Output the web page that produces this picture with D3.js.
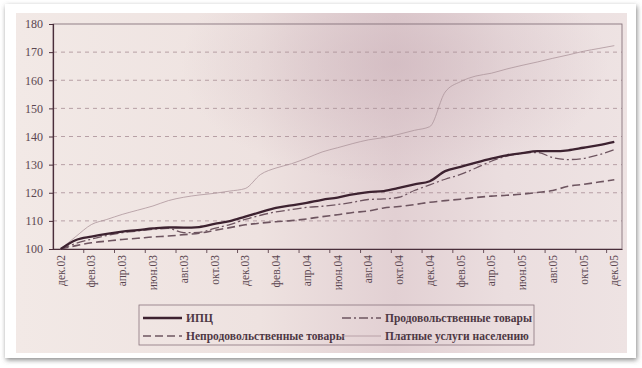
<!DOCTYPE html>
<html>
<head>
<meta charset="utf-8">
<script src="https://cdn.jsdelivr.net/npm/d3@7"></script>
<style>
  body { margin: 0; background: #fff; }
  text { font-family: "Liberation Serif", "DejaVu Serif", serif; }
</style>
</head>
<body>
<div class="chart"></div>
<script>
const width = 642,
    height = 368;

const months = ["дек.02","янв.03","фев.03","мар.03","апр.03","май.03","июн.03","июл.03","авг.03","сен.03","окт.03","ноя.03",
    "дек.03","янв.04","фев.04","мар.04","апр.04","май.04","июн.04","июл.04","авг.04","сен.04","окт.04","ноя.04",
    "дек.04","янв.05","фев.05","мар.05","апр.05","май.05","июн.05","июл.05","авг.05","сен.05","окт.05","ноя.05","дек.05"];
const yTicks = [100, 110, 120, 130, 140, 150, 160, 170, 180];

const cpi = [100,103.2,104.4,105.4,106.2,106.7,107.3,107.7,107.6,107.8,108.9,109.9,
    111.5,113.1,114.6,115.5,116.4,117.5,118.3,119.4,120.2,120.6,121.7,123.0,
    124.1,127.7,129.2,130.7,132.1,133.3,134.1,134.8,134.8,135.1,136.0,136.9,138.1];
const food = [100,102.0,103.5,104.8,105.8,106.4,107.0,107.3,105.8,105.9,107.3,108.7,
    110.5,112.0,113.2,114.0,114.8,115.2,115.8,116.6,117.6,117.8,118.4,120.8,
    122.8,124.8,126.5,128.8,131.2,133.0,134.0,134.3,132.5,131.8,132.2,133.5,135.3];
const nonfood = [100,101.2,102.2,102.8,103.4,103.8,104.3,104.6,105.1,105.6,106.6,107.6,
    108.6,109.2,109.7,110.1,110.7,111.5,112.2,113.0,113.5,114.6,115.1,115.8,
    116.6,117.2,117.7,118.3,118.8,119.1,119.5,120.1,120.8,122.3,123.0,123.8,124.6];
const services = [100,104.5,108.7,110.5,112.3,113.8,115.3,117.2,118.4,119.2,119.8,120.6,
    121.5,126.5,128.8,130.3,132.3,134.5,136.0,137.5,138.8,139.6,140.8,142.2,
    143.5,155.8,159.5,161.5,162.5,164.0,165.3,166.5,167.8,169.0,170.3,171.3,172.3];

const seriesNames = ["ИПЦ", "Продовольственные товары", "Непродовольственные товары", "Платные услуги населению"];

const ink = "#4a2e3a";
const series = [
    {name: seriesNames[0], values: cpi, width: 2.3, dash: null, color: "#3d2230"},
    {name: seriesNames[1], values: food, width: 1.3, dash: "9,3,2,3", color: "#6e5560"},
    {name: seriesNames[2], values: nonfood, width: 1.6, dash: "8,4", color: "#6e5560"},
    {name: seriesNames[3], values: services, width: 0.8, dash: null, color: "#ad959c"}
];

const svg = d3.select(".chart").append("svg")
    .attr("width", width)
    .attr("height", height);

const defs = svg.append("defs");
const paper = defs.append("linearGradient").attr("id", "paper")
    .attr("x1", 0).attr("x2", 1).attr("y1", 0).attr("y2", 0);
paper.append("stop").attr("offset", "0%").attr("stop-color", "#f2e9e6");
paper.append("stop").attr("offset", "40%").attr("stop-color", "#eee2e0");
paper.append("stop").attr("offset", "62%").attr("stop-color", "#e2d0d3");
paper.append("stop").attr("offset", "80%").attr("stop-color", "#ebdedf");
paper.append("stop").attr("offset", "100%").attr("stop-color", "#eee3e3");
const shade = defs.append("radialGradient").attr("id", "shade")
    .attr("cx", 0.62).attr("cy", 0.15).attr("r", 0.35);
shade.append("stop").attr("offset", "0%").attr("stop-color", "#c9afb7").attr("stop-opacity", 0.55);
shade.append("stop").attr("offset", "100%").attr("stop-color", "#c9afb7").attr("stop-opacity", 0);
const blur = defs.append("filter").attr("id", "shadow")
    .attr("x", -0.05).attr("y", -0.05).attr("width", 1.1).attr("height", 1.1);
blur.append("feDropShadow").attr("dx", 1).attr("dy", 2).attr("stdDeviation", 2.5)
    .attr("flood-color", "#555").attr("flood-opacity", 0.7);

// photo frame
svg.append("rect").attr("x", 5).attr("y", 4).attr("width", 631).attr("height", 354)
    .attr("fill", "#fff").attr("filter", "url(#shadow)");
svg.append("rect").attr("x", 16).attr("y", 13).attr("width", 611).attr("height", 340)
    .attr("fill", "url(#paper)");
svg.append("rect").attr("x", 16).attr("y", 13).attr("width", 611).attr("height", 340)
    .attr("fill", "url(#shade)");

const plot = {left: 53, right: 622, top: 24, bottom: 249};

const x = d3.scaleBand().domain(months).range([plot.left, plot.right]);
const y = d3.scaleLinear().domain([100, 180]).range([plot.bottom, plot.top]);
const cx = m => x(m) + x.bandwidth() / 2;

// gridlines
svg.append("g").selectAll("line")
    .data(yTicks.filter(t => t > 100 && t < 180))
    .enter().append("line")
    .attr("x1", plot.left).attr("x2", plot.right)
    .attr("y1", d => y(d)).attr("y2", d => y(d))
    .attr("stroke", "#a88e96").attr("stroke-width", 0.8)
    .attr("stroke-dasharray", "4,4");

// plot border
svg.append("rect")
    .attr("x", plot.left).attr("y", plot.top)
    .attr("width", plot.right - plot.left).attr("height", plot.bottom - plot.top)
    .attr("fill", "none").attr("stroke", "#7a6670").attr("stroke-width", 0.8);

// y axis
const yAxis = svg.append("g")
    .attr("transform", `translate(${plot.left},0)`)
    .call(d3.axisLeft(y).tickValues(yTicks).tickSize(4).tickPadding(6));
yAxis.select(".domain").attr("stroke", ink).attr("stroke-width", 1.2);
yAxis.selectAll(".tick line").attr("stroke", ink);
yAxis.selectAll("text").attr("fill", "#5b4751").style("font-size", "12px")
    .style("font-family", "Liberation Serif, serif");

// x axis
const xAxis = svg.append("g")
    .attr("transform", `translate(0,${plot.bottom})`)
    .call(d3.axisBottom(x).tickValues(months.filter((m, i) => i % 2 === 0)).tickSize(0).tickPadding(0));
xAxis.select(".domain").attr("stroke", ink).attr("stroke-width", 1);
xAxis.selectAll("text")
    .attr("fill", "#5b4751").style("font-size", "11.5px")
    .style("font-family", "Liberation Serif, serif")
    .attr("text-anchor", "end")
    .attr("dy", "0.35em")
    .attr("transform", "translate(0,6) rotate(-90)")
    .attr("x", 0).attr("y", 0);
svg.append("g").selectAll("line")
    .data(months.filter((m, i) => i % 2 === 0 && i > 0))
    .enter().append("line")
    .attr("x1", d => x(d)).attr("x2", d => x(d))
    .attr("y1", plot.bottom).attr("y2", plot.bottom + 4)
    .attr("stroke", ink).attr("stroke-width", 0.8);

// lines
const line = vals => d3.line()
    .x((d, i) => cx(months[i]))
    .y(d => y(d))
    .curve(d3.curveMonotoneX)(vals);

svg.append("g").selectAll("path")
    .data(series.slice().reverse())
    .enter().append("path")
    .attr("d", d => line(d.values))
    .attr("fill", "none")
    .attr("stroke", d => d.color)
    .attr("stroke-width", d => d.width)
    .attr("stroke-dasharray", d => d.dash);

// legend
svg.append("rect")
    .attr("x", 139).attr("y", 305).attr("width", 395).attr("height", 40)
    .attr("fill", "none").attr("stroke", "#8a747e").attr("stroke-width", 0.8);
const legendPos = [[143, 318], [342, 318], [143, 336], [342, 336]];
const legend = svg.append("g").selectAll("g")
    .data(series)
    .enter().append("g")
    .attr("transform", (d, i) => `translate(${legendPos[i][0]},${legendPos[i][1]})`);
legend.append("line")
    .attr("x1", 0).attr("x2", 39).attr("y1", 0).attr("y2", 0)
    .attr("stroke", d => d.color)
    .attr("stroke-width", d => d.width)
    .attr("stroke-dasharray", d => d.dash);
legend.append("text")
    .attr("x", 43).attr("y", 0).attr("dy", "0.35em")
    .attr("fill", "#4e3844").style("font-size", "11.5px")
    .style("font-weight", "bold")
    .text(d => d.name);
</script>
</body>
</html>
